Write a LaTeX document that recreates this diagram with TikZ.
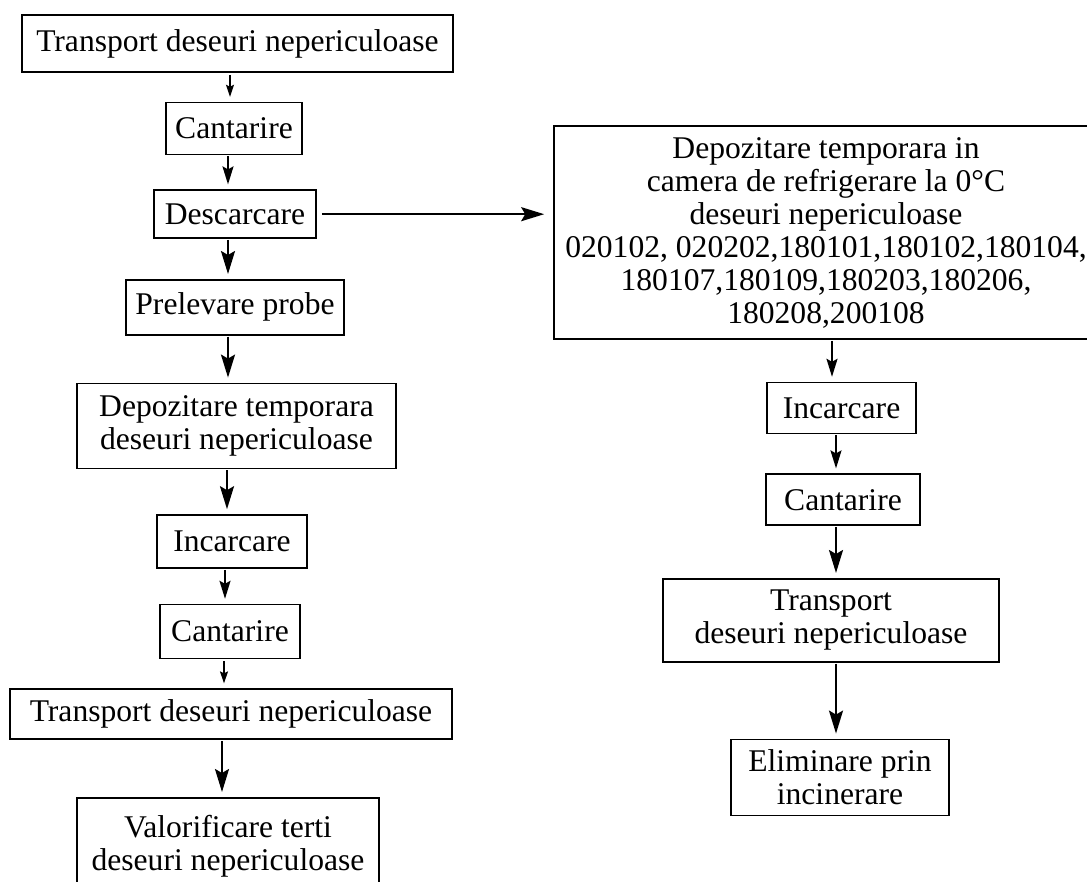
\documentclass[tikz,border=0pt]{standalone}
\usepackage{fontspec}
\setmainfont{Liberation Serif}
\usetikzlibrary{positioning, arrows.meta}

\begin{document}
\begin{tikzpicture}[box/.style={draw, line width=1.6pt, inner sep=0pt, align=center, font=\fontsize{31.6}{33}\selectfont},
    arrsmall/.style={-{Stealth[length=12pt, width=8pt, inset=2pt]}, line width=1.4pt, shorten >=5pt, shorten <=2pt},
    arrmid/.style={-{Stealth[length=18pt, width=11pt, inset=3pt]}, line width=1.8pt, shorten >=5pt, shorten <=1pt},
    arrbig/.style={-{Stealth[length=23pt, width=14pt, inset=4pt]}, line width=2.2pt, shorten >=5pt, shorten <=1pt}]
    \useasboundingbox (0,0) rectangle (1087pt,-882pt);

    % Left path
    \node (t1) [box, minimum width=431pt, minimum height=57pt] at (237.5pt,-43.5pt) {Transport deseuri nepericuloase};
    \node (c1) [below=29pt of t1, xshift=-3.5pt, box, minimum width=136pt, minimum height=52pt] {Cantarire};
    \node (d1) [below=34pt of c1, xshift=1pt, box, minimum width=162pt, minimum height=48pt] {Descarcare};
    \node (p1) [below=40pt of d1, box, minimum width=218pt, minimum height=55pt] {Prelevare probe};
    \node (dep1) [below=47pt of p1, xshift=1.5pt, box, minimum width=319pt, minimum height=85pt] {Depozitare temporara\\deseuri nepericuloase};
    \node (i1) [below=45pt of dep1, xshift=-4.5pt, box, minimum width=150pt, minimum height=53pt] {Incarcare};
    \node (c2) [below=35pt of i1, xshift=-2pt, box, minimum width=140pt, minimum height=54pt] {Cantarire};
    \node (t2) [below=29pt of c2, xshift=1pt, box, minimum width=442pt, minimum height=50pt] {Transport deseuri nepericuloase};
    \node (v1) [below=57pt of t2, xshift=-3pt, box, minimum width=302pt, minimum height=96pt] {Valorificare terti\\deseuri nepericuloase};

    % Right path
    \node (a1) [box, minimum width=544pt, minimum height=213pt] at (826pt,-232.5pt) {Depozitare temporara in\\camera de refrigerare la 0°C\\deseuri nepericuloase\\020102, 020202,180101,180102,180104,\\180107,180109,180203,180206,\\180208,200108};
    \node (i2) [below=42pt of a1, xshift=15.5pt, box, minimum width=149pt, minimum height=51pt] {Incarcare};
    \node (c3) [below=39pt of i2, xshift=1.5pt, box, minimum width=154pt, minimum height=51pt] {Cantarire};
    \node (t3) [below=52pt of c3, xshift=-12pt, box, minimum width=336pt, minimum height=83pt] {Transport\\deseuri nepericuloase};
    \node (e1) [below=76pt of t3, xshift=9pt, box, minimum width=218pt, minimum height=76pt] {Eliminare prin\\incinerare};

    % Left arrows
    \draw[arrsmall] ([xshift=-7.5pt]t1.south) -- ([xshift=-7.5pt]t1.south |- c1.north);
    \draw[arrmid] ([xshift=-6pt]c1.south) -- ([xshift=-6pt]c1.south |- d1.north);
    \draw[arrbig] ([xshift=-7pt]d1.south) -- ([xshift=-7pt]d1.south |- p1.north);
    \draw[arrbig] ([xshift=-7pt]p1.south) -- ([xshift=-7pt]p1.south |- dep1.north);
    \draw[arrbig] ([xshift=-9.5pt]dep1.south) -- ([xshift=-9.5pt]dep1.south |- i1.north);
    \draw[arrmid] ([xshift=-7pt]i1.south) -- ([xshift=-7pt]i1.south |- c2.north);
    \draw[arrsmall] ([xshift=-6pt]c2.south) -- ([xshift=-6pt]c2.south |- t2.north);
    \draw[arrbig] ([xshift=-9pt]t2.south) -- ([xshift=-9pt]t2.south |- v1.north);

    % Cross arrow
    \draw[arrbig, shorten <=5pt, shorten >=9pt] (d1.east) -- (d1.east -| a1.west);

    % Right arrows
    \draw[arrmid] ([xshift=6pt]a1.south) -- ([xshift=6pt]a1.south |- i2.north);
    \draw[arrmid] ([xshift=-5.5pt]i2.south) -- ([xshift=-5.5pt]i2.south |- c3.north);
    \draw[arrbig] ([xshift=-7pt]c3.south) -- ([xshift=-7pt]c3.south |- t3.north);
    \draw[arrbig] ([xshift=5pt]t3.south) -- ([xshift=5pt]t3.south |- e1.north);
\end{tikzpicture}
\end{document}
